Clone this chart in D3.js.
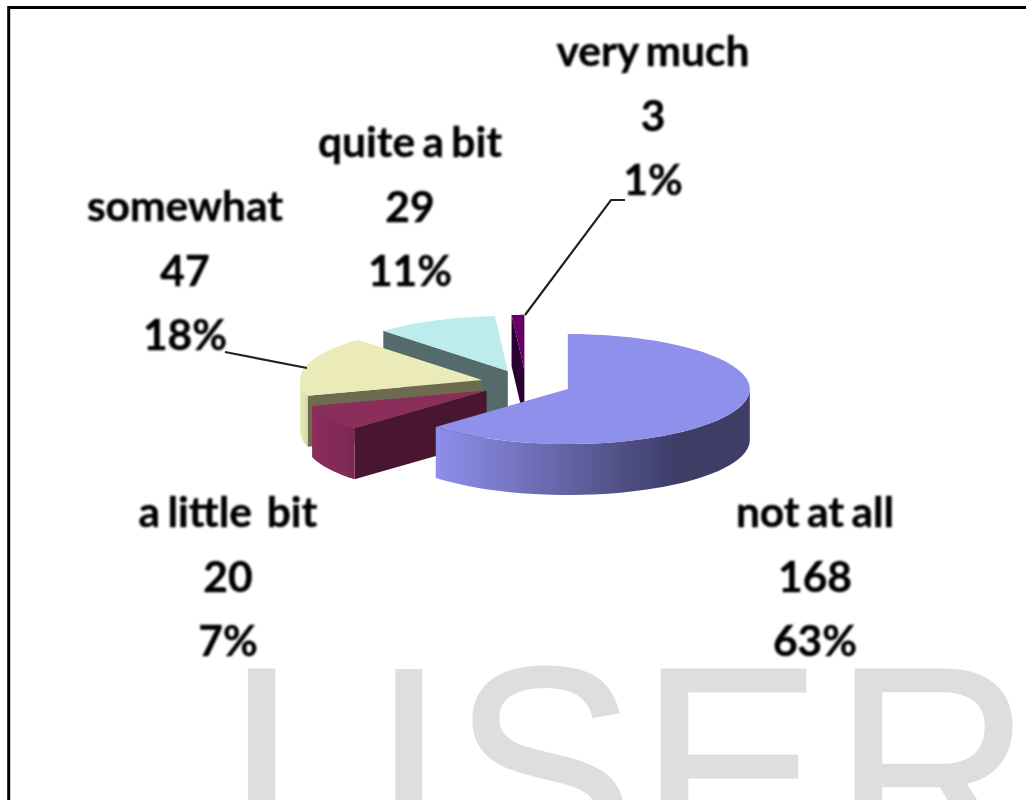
<!DOCTYPE html>
<html><head><meta charset="utf-8">
<script src="https://cdn.jsdelivr.net/npm/d3@7"></script>
<style>html,body{margin:0;padding:0;background:#fff;overflow:hidden}svg{display:block}</style>
</head><body><svg id="c" width="1026" height="800"></svg>
<script>
const categories = ["not at all","a little  bit","somewhat","quite a bit","very much"];
const counts = [168,20,47,29,3];
const percents = ["63%","7%","18%","11%","1%"];
const topColors = ["#8f8fec","#8b2d5b","#ebebb9","#bcecec","#660066"];
const cutColors = ["#8f8fec","#4a1730","#6e6c50","#546a6a","#2c0030"];
const wallDark = ["#3c3c66","#7d2852","#d8d7a8","#a8d4d4","#440044"];
const wallLight = ["#8f8fec","#8b2d5b","#ebebb9","#bcecec","#660066"];
const labelX = [815,228,185,410,653];
const labelY = [513,513,207,143,52];
const leaders = [null,null,[[225,352],[307,368]],null,[[625,200],[611,200],[525,315]]];
const watermarkLetters = ["I","J","S","E","R"];
const watermarkFonts = ["Liberation Sans","Roboto","Liberation Sans","Liberation Sans","Liberation Sans"];
const watermarkSizes = [290,280,290,290,290];
const watermarkX = [223.4,295,452,639,833];

const cx=526, cy=383.6, R=182, r=55, depth=51, explode=0.25;
const svg=d3.select("#c");
const defs=svg.append("defs");
defs.append("filter").attr("id","soft").append("feGaussianBlur").attr("stdDeviation",0.7);
defs.append("filter").attr("id","softText").append("feGaussianBlur").attr("stdDeviation",0.8);

// watermark
const wm=svg.append("text").attr("transform","translate(0,869) scale(0.95,1)")
  .attr("fill","#dedede").attr("stroke","#dedede").attr("stroke-width",2);
watermarkLetters.forEach((c,i)=>{
  wm.append("tspan").attr("x",watermarkX[i]/0.95).attr("font-family",watermarkFonts[i])
    .attr("font-size",watermarkSizes[i]).text(c);
});

// frame
svg.append("rect").attr("x",8.7).attr("y",7.5).attr("width",1040).attr("height",820)
  .attr("fill","none").attr("stroke","#000").attr("stroke-width",3);

const arcs=d3.pie().sort(null).value(d=>d)(counts);
const g=svg.append("g").attr("filter","url(#soft)");
const px=(a,k=1)=>k*R*Math.sin(a), py=(a,k=1)=>-k*r*Math.cos(a);

d3.range(arcs.length).reverse().forEach(i=>{
  const d=arcs[i], m=(d.startAngle+d.endAngle)/2;
  const ax=cx+px(m,explode), ay=cy+py(m,explode);
  const s=g.append("g").attr("transform",`translate(${ax},${ay})`);
  const line=d3.line();
  // cut wall on the start edge
  const e=[px(d.startAngle),py(d.startAngle)];
  s.append("path").attr("d",line([[0,0],e,[e[0],e[1]+depth],[0,depth]])+"Z").attr("fill",cutColors[i]);
  // outer wall on the front half
  const a0=Math.max(d.startAngle,Math.PI/2), a1=Math.min(d.endAngle,3*Math.PI/2);
  if(a1>a0){
    const as=d3.range(0,41).map(t=>a0+(a1-a0)*t/40);
    const pts=as.map(a=>[px(a),py(a)]).concat(as.slice().reverse().map(a=>[px(a),py(a)+depth]));
    const id="w"+i;
    const xs=as.map(a=>px(a));
    const lo=d3.min(xs), hi=d3.max(xs);
    const gr=defs.append("linearGradient").attr("id",id).attr("gradientUnits","userSpaceOnUse")
      .attr("x1",lo).attr("x2",hi).attr("y1",0).attr("y2",0);
    gr.append("stop").attr("offset",0).attr("stop-color",wallLight[i]);
    gr.append("stop").attr("offset",i===0?0.78:1).attr("stop-color",wallDark[i]);
    s.append("path").attr("d",line(pts)+"Z").attr("fill",`url(#${id})`);
  }
  // top face
  const as=d3.range(0,81).map(t=>d.startAngle+(d.endAngle-d.startAngle)*t/80);
  s.append("path").attr("d",line([[0,0]].concat(as.map(a=>[px(a),py(a)])))+"Z").attr("fill",topColors[i]);
});

// leaders
const lg=svg.append("g").attr("filter","url(#soft)");
leaders.forEach(l=>{ if(l) lg.append("path").attr("d",d3.line()(l)).attr("fill","none").attr("stroke","#222").attr("stroke-width",2.2);});

// labels
const t=svg.append("g").attr("filter","url(#softText)").attr("font-family","Lato").attr("font-weight",700)
  .attr("font-size",42.5).attr("fill","#000").attr("stroke","#000").attr("stroke-width",0.4)
  .attr("text-anchor","middle").attr("word-spacing",-3);
categories.forEach((c,i)=>{
  [c,String(counts[i]),percents[i]].forEach((s,j)=>{
    t.append("text").attr("x",labelX[i]).attr("y",labelY[i]+14+j*64.7).style("white-space","pre").text(s);
  });
});
</script></body></html>
